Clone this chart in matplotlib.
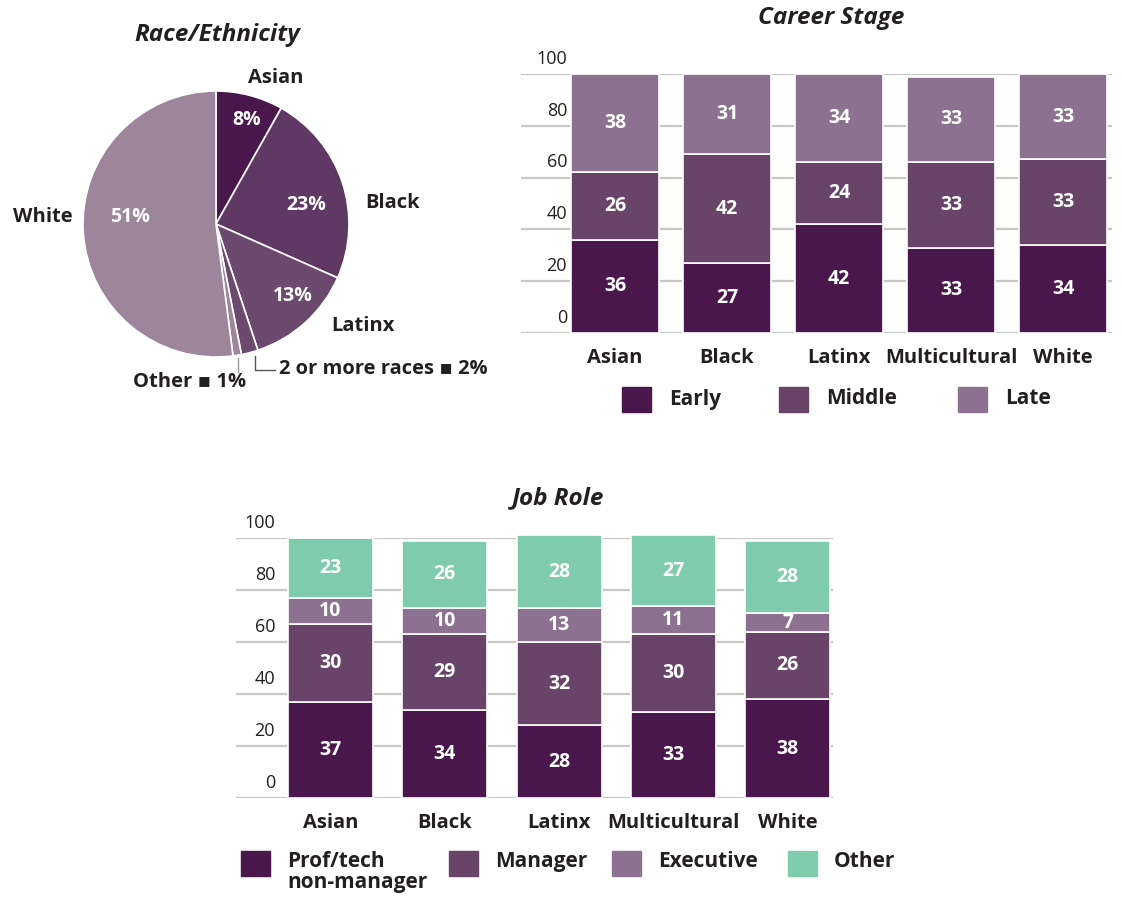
import matplotlib
matplotlib.use('Agg')
import matplotlib.pyplot as plt
from matplotlib.patches import Rectangle
import numpy as np

plt.rcParams['font.family'] = ['Open Sans', 'DejaVu Sans']

# data
race_labels = ['Asian', 'Black', 'Latinx', '2 or more races', 'Other', 'White']
race_pct = [8, 23, 13, 2, 1, 51]
race_colors = ['#4a174c', '#5f3963', '#6c4a6e', '#6c4a6e', '#9d859c', '#9d859c']

groups = ['Asian', 'Black', 'Latinx', 'Multicultural', 'White']

stage_names = ['Early', 'Middle', 'Late']
stage_early = [36, 27, 42, 33, 34]
stage_middle = [26, 42, 24, 33, 33]
stage_late = [38, 31, 34, 33, 33]

role_names = ['Prof/tech\nnon-manager', 'Manager', 'Executive', 'Other']
role_prof = [37, 34, 28, 33, 38]
role_manager = [30, 29, 32, 30, 26]
role_exec = [10, 10, 13, 11, 7]
role_other = [23, 26, 28, 27, 28]

yticks = [0, 20, 40, 60, 80, 100]

c_dark = '#4a174c'
c_mid = '#674468'
c_light = '#8d7190'
c_green = '#7fcbad'
txt = '#231f20'
grid_c = '#c8c8c8'

W, H = 1122, 898
fig = plt.figure(figsize=(W / 100, H / 100), dpi=100)


def px_axes(x0, y0, x1, y1):
    # pixel box (top-left origin) -> figure axes
    return fig.add_axes([x0 / W, 1 - y1 / H, (x1 - x0) / W, (y1 - y0) / H])


# ---- pie ----
R = 133
cx, cy = 216, 224
ax_p = px_axes(cx - 216, cy - 216, cx + 216, cy + 216)
ax_p.pie(race_pct, colors=race_colors, startangle=90, counterclock=False,
         radius=1, wedgeprops=dict(edgecolor='white', linewidth=1.2))
lim = 216 / R
ax_p.set_xlim(-lim, lim)
ax_p.set_ylim(-lim, lim)
ax_p.set_aspect('equal')
ax_p.axis('off')

pct_pos = {'Asian': (0.23, 0.78), 'Black': (0.68, 0.14), 'Latinx': (0.58, -0.54), 'White': (-0.65, 0.05)}
for lab, v in zip(race_labels, race_pct):
    if lab in pct_pos:
        x, y = pct_pos[lab]
        ax_p.text(x, y, f'{v}%', color='white', fontsize=14, fontweight='bold',
                  ha='center', va='center')

lab_kw = dict(fontsize=14.5, fontweight='bold', color=txt, va='center')
ax_p.text(0.45, 1.10, race_labels[0], ha='center', **lab_kw)
ax_p.text(1.12, 0.16, race_labels[1], ha='left', **lab_kw)
ax_p.text(0.87, -0.77, race_labels[2], ha='left', **lab_kw)
ax_p.text(0.47, -1.09, f'{race_labels[3]} \u25aa {race_pct[3]}%', ha='left', **lab_kw)
ax_p.text(-0.2, -1.19, f'{race_labels[4]} \u25aa {race_pct[4]}%', ha='center', **lab_kw)
ax_p.text(-1.08, 0.05, race_labels[5], ha='right', **lab_kw)
ax_p.plot([0.29, 0.29, 0.44], [-0.99, -1.10, -1.10], color='#555555', lw=1)
ax_p.plot([0.165, 0.165], [-1.01, -1.11], color='#999999', lw=1)
fig.text(217 / W, 1 - 35 / H, 'Race/Ethnicity', fontsize=17.5, fontweight='bold', fontstyle='italic',
         color=txt, ha='center', va='center')


def stacked(ax, series, bar_w, x_lab_right):
    x = np.arange(len(groups))
    bottom = np.zeros(len(groups))
    for vals, col in series:
        vals = np.array(vals)
        ax.bar(x, vals, bottom=bottom, width=bar_w, color=col, edgecolor='white',
               linewidth=1.2, zorder=2, clip_on=False)
        for xi, b, v in zip(x, bottom, vals):
            ax.text(xi, b + v / 2, str(v), color='white', fontsize=14, fontweight='bold',
                    ha='center', va='center', zorder=3)
        bottom = bottom + vals
    ax.set_ylim(0, 100)
    for t in yticks:
        ax.axhline(t, color=grid_c, lw=1.6, zorder=0)
        ax.annotate(str(t), (x_lab_right, t), xytext=(0, 11), textcoords='offset points',
                    ha='right', va='center', fontsize=13, color=txt)
    ax.set_yticks([])
    ax.set_xticks(x)
    ax.set_xticklabels(groups, fontsize=14.5, fontweight='bold', color=txt)
    ax.tick_params(axis='x', length=0, pad=11)
    for s in ax.spines.values():
        s.set_visible(False)


# ---- career stage ----
ax_c = px_axes(521, 74, 1112, 333)
ax_c.set_xlim((521 - 615) / 112, (1112 - 615) / 112)
stacked(ax_c, [(stage_early, c_dark), (stage_middle, c_mid), (stage_late, c_light)],
        88 / 112, (567 - 615) / 112)
fig.text(831 / W, 1 - 18 / H, 'Career Stage', fontsize=17.5, fontweight='bold', fontstyle='italic',
         color=txt, ha='center', va='center')
for x0, col, lab in zip([622, 779, 958], [c_dark, c_mid, c_light], stage_names):
    fig.add_artist(Rectangle((x0 / W, 1 - 412 / H), 29 / W, 25 / H,
                             transform=fig.transFigure, color=col))
    fig.text((x0 + 47) / W, 1 - 399 / H, lab, fontsize=15, fontweight='bold',
             color=txt, ha='left', va='center')

# ---- job role ----
ax_j = px_axes(236, 538, 833, 798)
ax_j.set_xlim((236 - 330.5) / 114.3, (833 - 330.5) / 114.3)
stacked(ax_j, [(role_prof, c_dark), (role_manager, c_mid), (role_exec, c_light), (role_other, c_green)],
        85 / 114.3, (275 - 330.5) / 114.3)
fig.text(558 / W, 1 - 498 / H, 'Job Role', fontsize=17.5, fontweight='bold', fontstyle='italic',
         color=txt, ha='center', va='center')
for x0, col, lab in zip([241, 449, 612, 788], [c_dark, c_mid, c_light, c_green], role_names):
    fig.add_artist(Rectangle((x0 / W, 1 - 876 / H), 29 / W, 25 / H,
                             transform=fig.transFigure, color=col))
    fig.text((x0 + 46) / W, 1 - 851 / H, lab, fontsize=15, fontweight='bold',
             color=txt, ha='left', va='top', linespacing=1.0)

fig.savefig('out.png', dpi=100, facecolor='white')
